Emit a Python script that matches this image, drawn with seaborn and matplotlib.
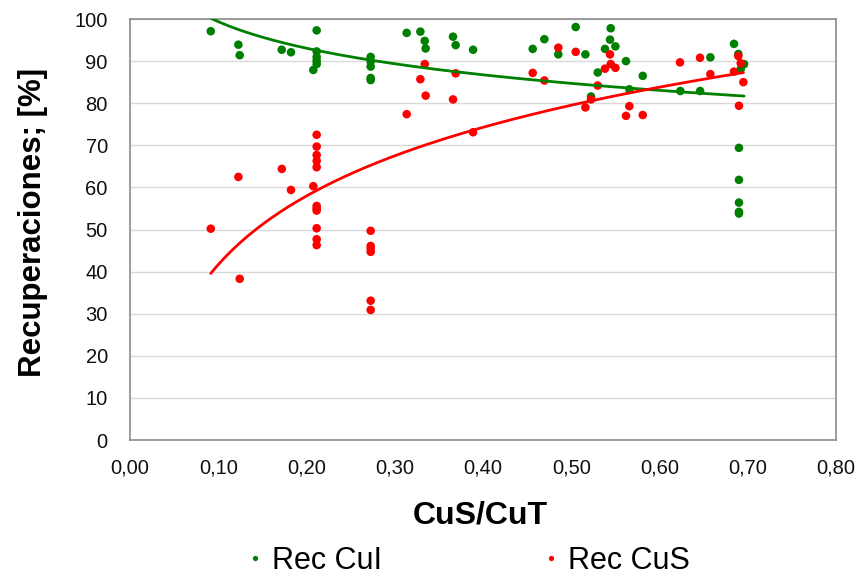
import numpy as np
import pandas as pd
import matplotlib
matplotlib.use("Agg")
import matplotlib.pyplot as plt
from matplotlib.lines import Line2D
from matplotlib.ticker import FuncFormatter, MultipleLocator
import seaborn as sns

# CuS/CuT ratio and recoveries (%) for each sample
cui_ratio = [0.0915, 0.1228, 0.1243, 0.1719, 0.1824, 0.2115, 0.2115, 0.2115, 0.2115, 0.2115,
             0.2077, 0.2727, 0.2727, 0.2727, 0.2727, 0.2727, 0.3135, 0.3290, 0.3340, 0.3350,
             0.3660, 0.3690, 0.3887, 0.4563, 0.4695, 0.4853, 0.5050, 0.5160, 0.5447, 0.5439,
             0.5500, 0.5382, 0.5620, 0.5300, 0.5224, 0.5658, 0.5810, 0.6236, 0.6460, 0.6576,
             0.6844, 0.6893, 0.6958, 0.6920, 0.6900, 0.6900, 0.6900, 0.6900, 0.6900]
rec_cui = [97.1, 93.9, 91.4, 92.7, 92.1, 97.3, 92.3, 91.0, 90.1, 89.3,
           87.9, 91.0, 89.9, 88.7, 86.0, 85.5, 96.7, 97.0, 94.8, 93.0,
           95.8, 93.8, 92.7, 92.9, 95.2, 91.6, 98.1, 91.6, 97.8, 95.1,
           93.5, 92.9, 90.0, 87.3, 81.6, 83.3, 86.5, 82.9, 82.9, 90.9,
           94.1, 91.7, 89.3, 88.1, 69.4, 61.8, 56.4, 54.2, 53.8]

cus_ratio = [0.0915, 0.1228, 0.1243, 0.1720, 0.1824, 0.2077, 0.2115, 0.2115, 0.2115, 0.2115,
             0.2115, 0.2115, 0.2115, 0.2115, 0.2115, 0.2115, 0.2115, 0.2727, 0.2727, 0.2727,
             0.2727, 0.2727, 0.2727, 0.3135, 0.3290, 0.3340, 0.3350, 0.3660, 0.3690, 0.3887,
             0.4563, 0.4695, 0.4853, 0.5050, 0.5160, 0.5224, 0.5300, 0.5382, 0.5439, 0.5447,
             0.5500, 0.5620, 0.5658, 0.5810, 0.6232, 0.6459, 0.6576, 0.6844, 0.6893, 0.6920,
             0.6950, 0.6900]
rec_cus = [50.2, 62.5, 38.3, 64.4, 59.4, 60.3, 72.5, 69.7, 67.7, 66.3,
           64.8, 55.6, 55.0, 54.5, 50.3, 47.7, 46.3, 49.7, 46.1, 45.5,
           44.7, 33.1, 30.9, 77.4, 85.7, 89.3, 81.8, 80.9, 87.1, 73.1,
           87.2, 85.4, 93.2, 92.2, 79.0, 80.9, 84.2, 88.2, 91.6, 89.3,
           88.4, 77.0, 79.3, 77.2, 89.7, 90.8, 86.9, 87.5, 91.2, 89.5,
           85.0, 79.4]

# Logarithmic trend lines: y = slope * ln(x) + intercept
trend_cui = {"slope": -9.11, "intercept": 78.4}
trend_cus = {"slope": 23.52, "intercept": 95.83}

series_names = ["Rec CuI", "Rec CuS"]
colors = {"Rec CuI": "#008000", "Rec CuS": "#ff0000"}

df = pd.concat([
    pd.DataFrame({"ratio": cui_ratio, "rec": rec_cui, "serie": series_names[0]}),
    pd.DataFrame({"ratio": cus_ratio, "rec": rec_cus, "serie": series_names[1]}),
], ignore_index=True)

sns.set_style("white")
plt.rcParams["font.family"] = ["Liberation Sans", "DejaVu Sans"]
plt.rcParams["text.color"] = "#000000"
plt.rcParams["axes.labelcolor"] = "#000000"

fig = plt.figure(figsize=(8.61, 5.76), dpi=100)
ax = fig.add_axes([0.151, 0.236, 0.820, 0.731])

sns.scatterplot(data=df, x="ratio", y="rec", hue="serie", palette=colors,
                s=38, linewidth=0, legend=False, ax=ax, zorder=3)

for name, xs, tr in [("Rec CuI", cui_ratio, trend_cui), ("Rec CuS", cus_ratio, trend_cus)]:
    xs = np.asarray(xs)
    xf = np.linspace(xs.min(), xs.max(), 200)
    sns.lineplot(x=xf, y=tr["slope"] * np.log(xf) + tr["intercept"],
                 color=colors[name], linewidth=2, ax=ax, zorder=4)

ax.set_xlim(0, 0.8)
ax.set_ylim(0, 100)
ax.xaxis.set_major_locator(MultipleLocator(0.1))
ax.yaxis.set_major_locator(MultipleLocator(10))
ax.xaxis.set_major_formatter(FuncFormatter(lambda v, p: f"{v:.2f}".replace(".", ",")))
ax.yaxis.set_major_formatter(FuncFormatter(lambda v, p: f"{v:.0f}"))

ax.grid(axis="y", color="#d9d9d9", linewidth=1)
ax.grid(axis="x", visible=False)
ax.set_axisbelow(True)
for sp in ax.spines.values():
    sp.set_color("#8c8c8c")
    sp.set_linewidth(1.2)
ax.tick_params(axis="both", which="major", direction="out", length=5, width=1,
               color="#8c8c8c", labelsize=14.5, labelcolor="#111111")
ax.tick_params(axis="y", pad=11)
ax.tick_params(axis="x", pad=8)

ax.set_xlabel("CuS/CuT", fontsize=23, fontweight="bold")
ax.xaxis.set_label_coords(0.4965, -0.143)
ax.set_ylabel("Recuperaciones; [%]", fontsize=22.5, fontweight="bold")
ax.yaxis.set_label_coords(-0.116, 0.517)

handles = [Line2D([], [], marker="o", linestyle="none", markersize=3.8,
                  markerfacecolor=colors[n], markeredgewidth=0, label=n)
           for n in series_names]
fig.legend(handles=handles, loc="center", bbox_to_anchor=(0.544, 0.026),
           ncol=2, frameon=False, fontsize=22, handletextpad=0.3,
           columnspacing=5.28, handlelength=0.5, borderpad=0.1)

fig.savefig("out.png", dpi=100)
